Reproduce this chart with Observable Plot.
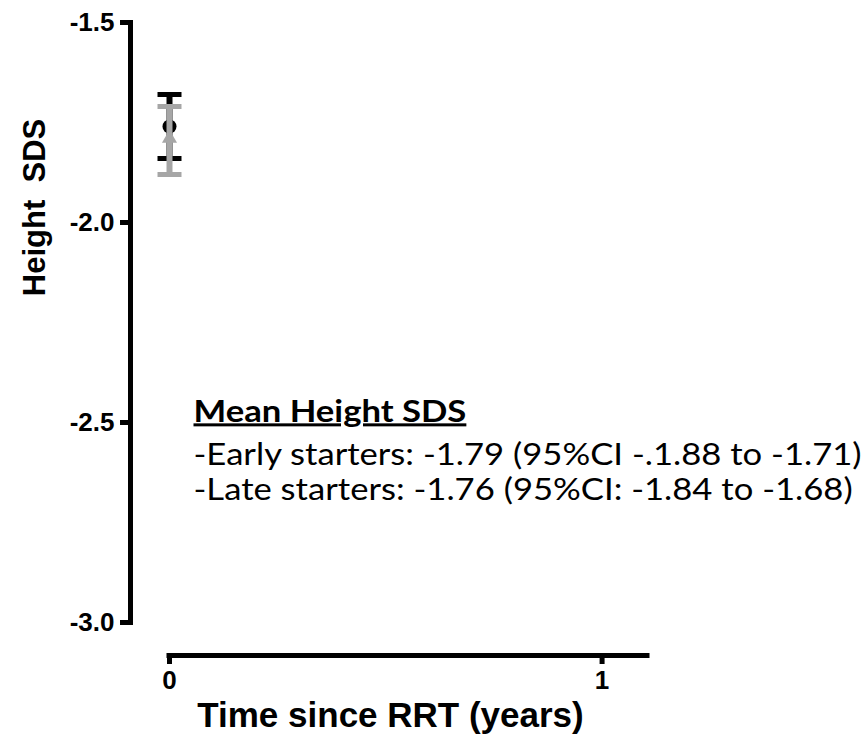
<!DOCTYPE html>
<html>
<head>
<meta charset="utf-8">
<script src="https://cdn.jsdelivr.net/npm/d3@7"></script>
<script src="https://cdn.jsdelivr.net/npm/@observablehq/plot@0.6"></script>
<style>
  html, body { margin: 0; padding: 0; background: #fff; }
</style>
</head>
<body>
<div id="chart"></div>
<script>
// Mean height SDS at start of RRT, by starter group, with 95% CI
const groups = ["Early starters", "Late starters"];
const times = [0, 0];
const means = [-1.79, -1.76];
const ciLow = [-1.88, -1.84];
const ciHigh = [-1.71, -1.68];
const ciPrefix = ["95%CI -.", "95%CI: -"];
const groupColors = ["#a6a6a6", "#000000"];
const groupSymbols = ["triangle", "circle"];

const yTicks = [-3.0, -2.5, -2.0, -1.5];
const xTicks = [0, 1];
const yDomain = [-3.0, -1.5];
const xDomain = [0, 1.105];

const rows = groups.map((g, i) => ({
  group: g, time: times[i], mean: means[i], lo: ciLow[i], hi: ciHigh[i],
  color: groupColors[i], symbol: groupSymbols[i]
}));

const noteTitle = "Mean Height SDS";
const noteLines = rows.map((d, i) =>
  `-${d.group}: ${d.mean.toFixed(2)} (${ciPrefix[i]}${Math.abs(d.lo).toFixed(2)} to ${d.hi.toFixed(2)})`
);

// horizontal bar used as an error-bar cap; half-width equals r
const capSymbol = {
  draw(context, size) {
    const w = Math.sqrt(size / Math.PI);
    context.moveTo(-w, 0);
    context.lineTo(w, 0);
  }
};

const axisFont = "'Liberation Sans', Arial, sans-serif";
const noteFont = "Lato, 'Open Sans', sans-serif";
const noteSize = 30;
const noteStretch = 1.155;

// late starters first, so the grey early-starter bar sits on top
const drawOrder = [rows[1], rows[0]];
const groupMarks = drawOrder.flatMap(d => [
  Plot.ruleX([d], {x: "time", y1: "lo", y2: "hi", stroke: d.color, strokeWidth: 6}),
  Plot.dot([d.lo, d.hi], {x: () => d.time, y: v => v, symbol: capSymbol, r: 12,
    fill: "none", stroke: d.color, strokeWidth: 5}),
  Plot.dot([d], {x: "time", y: "mean", symbol: d.symbol, r: d.symbol === "circle" ? 7 : 5.6,
    fill: d.color, stroke: "none"})
]);

const chart = Plot.plot({
  width: 864,
  height: 735,
  marginLeft: 130,
  marginTop: 22,
  marginBottom: 113,
  marginRight: 217,
  style: {background: "#fff", fontFamily: axisFont, color: "#000"},
  x: {domain: xDomain, range: [169, 647], axis: null},
  y: {domain: yDomain, axis: null},
  marks: [
    // y axis
    Plot.frame({anchor: "left", stroke: "#000", strokeWidth: 5, strokeLinecap: "square"}),
    Plot.axisY({ticks: yTicks, tickSize: 10, tickPadding: 6, strokeWidth: 5,
      tickFormat: d => d.toFixed(1), fontSize: 26, fontWeight: "bold", label: null,
      fontFamily: axisFont, fill: "#000"}),
    Plot.text(["Height  SDS"], {frameAnchor: "top-left", dx: -108, dy: 185, rotate: -90,
      textAnchor: "middle", fontSize: 31, fontWeight: "bold", fontFamily: axisFont, fill: "#000"}),
    // x axis, offset below the plotting area
    Plot.ruleY([yDomain[0]], {y: v => v, x1: () => xDomain[0], x2: () => xDomain[1], dy: 33,
      stroke: "#000", strokeWidth: 5, strokeLinecap: "square"}),
    Plot.axisX({ticks: xTicks, tickSize: 9, tickPadding: 6, strokeWidth: 5, dy: 33,
      tickFormat: d => String(d), fontSize: 26, fontWeight: "bold", label: null,
      fontFamily: axisFont, fill: "#000"}),
    Plot.text(["Time since RRT (years)"], {frameAnchor: "bottom-left", dx: 260, dy: 104,
      textAnchor: "middle", lineAnchor: "bottom", fontSize: 35, fontWeight: "bold",
      fontFamily: axisFont, fill: "#000"}),
    // error bars and means
    ...groupMarks,
    // summary note
    Plot.text([noteTitle], {frameAnchor: "top-left", dx: 63, dy: 399, textAnchor: "start",
      lineAnchor: "bottom", fontSize: noteSize, fontWeight: "bold", fontFamily: noteFont, fill: "#000"}),
    ...noteLines.map((t, i) => Plot.text([t], {frameAnchor: "top-left", dx: 63, dy: 442 + i * 35,
      textAnchor: "start", lineAnchor: "bottom", fontSize: noteSize, fontFamily: noteFont, fill: "#000"}))
  ]
});

// the note is set a little wider than the font's natural width
const noteTexts = new Set([noteTitle, ...noteLines]);
d3.select(chart).selectAll("text")
  .filter(function () { return noteTexts.has(this.textContent); })
  .attr("transform", function () {
    return `${this.getAttribute("transform") || ""} scale(${noteStretch},1)`;
  });
d3.select(chart).selectAll("text")
  .filter(function () { return this.textContent === noteTitle; })
  .attr("text-decoration", "underline");

document.getElementById("chart").appendChild(chart);
</script>
</body>
</html>
